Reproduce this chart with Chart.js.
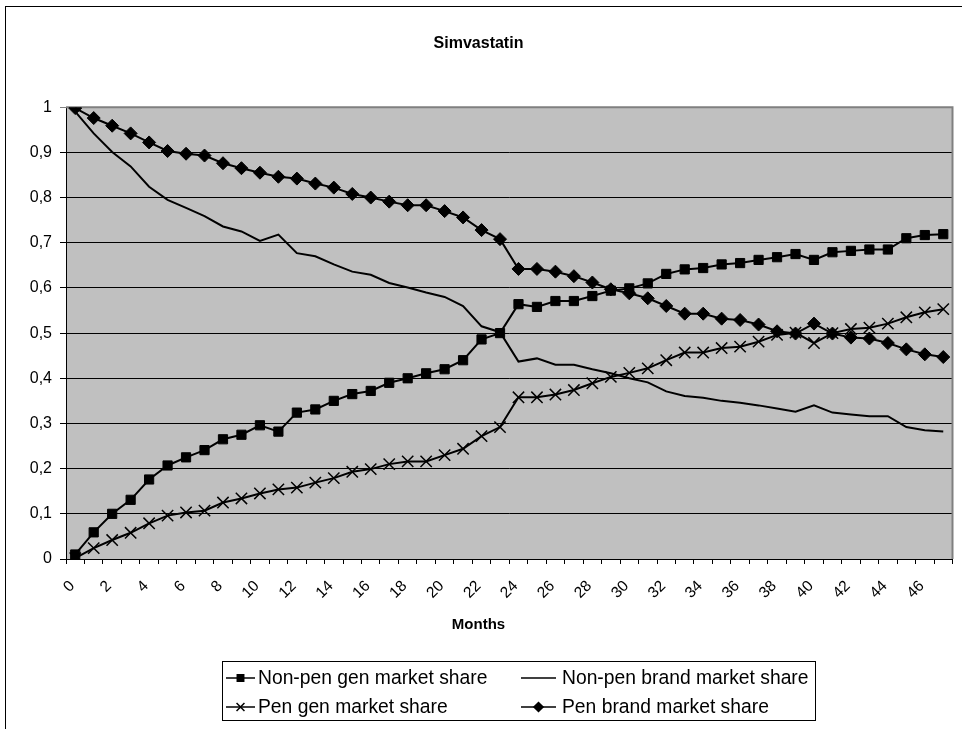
<!DOCTYPE html>
<html>
<head>
<meta charset="utf-8">
<title>Simvastatin</title>
<script src="https://cdn.jsdelivr.net/npm/chart.js@4.4.0/dist/chart.umd.min.js"></script>
<style>
  html, body { margin: 0; padding: 0; background: #ffffff; }
  #wrap { position: relative; width: 962px; height: 729px; }
</style>
</head>
<body>
<div id="wrap"><canvas id="chart" width="962" height="729"></canvas></div>
<script>
// Months since generic entry
const months = Array.from({ length: 48 }, (_, i) => String(i));

// Market shares per month
const nonPenGen = [
  0.010, 0.059, 0.100, 0.131, 0.176, 0.207, 0.225, 0.241, 0.265, 0.275,
  0.296, 0.282, 0.324, 0.331, 0.350, 0.365, 0.372, 0.390, 0.400, 0.411,
  0.420, 0.440, 0.486, 0.500, 0.564, 0.558, 0.571, 0.571, 0.582, 0.594,
  0.599, 0.610, 0.631, 0.641, 0.644, 0.652, 0.655, 0.662, 0.668, 0.675,
  0.662, 0.679, 0.682, 0.685, 0.685, 0.710, 0.717, 0.719
];
const nonPenBrand = [
  0.990, 0.942, 0.901, 0.869, 0.824, 0.795, 0.777, 0.759, 0.736, 0.725,
  0.704, 0.718, 0.677, 0.670, 0.652, 0.636, 0.629, 0.611, 0.601, 0.590,
  0.580, 0.560, 0.515, 0.502, 0.437, 0.444, 0.430, 0.430, 0.420, 0.411,
  0.400, 0.391, 0.371, 0.361, 0.357, 0.350, 0.346, 0.340, 0.333, 0.326,
  0.340, 0.324, 0.320, 0.316, 0.316, 0.292, 0.285, 0.282
];
const penGen = [
  0.002, 0.024, 0.042, 0.058, 0.079, 0.096, 0.103, 0.107, 0.125, 0.134,
  0.145, 0.154, 0.158, 0.169, 0.179, 0.193, 0.199, 0.210, 0.216, 0.216,
  0.230, 0.244, 0.272, 0.292, 0.358, 0.358, 0.364, 0.374, 0.389, 0.403,
  0.412, 0.422, 0.440, 0.457, 0.457, 0.467, 0.470, 0.481, 0.496, 0.501,
  0.478, 0.500, 0.509, 0.512, 0.521, 0.535, 0.546, 0.553
];
const penBrand = [
  0.998, 0.976, 0.959, 0.942, 0.922, 0.903, 0.897, 0.893, 0.876, 0.865,
  0.855, 0.846, 0.842, 0.831, 0.822, 0.808, 0.800, 0.791, 0.783, 0.783,
  0.770, 0.756, 0.728, 0.708, 0.642, 0.642, 0.636, 0.626, 0.612, 0.597,
  0.588, 0.577, 0.560, 0.543, 0.543, 0.532, 0.529, 0.519, 0.504, 0.499,
  0.521, 0.499, 0.490, 0.488, 0.478, 0.464, 0.453, 0.447
];

const seriesLabels = [
  'Non-pen gen market share',
  'Non-pen brand market share',
  'Pen gen market share',
  'Pen brand market share'
];

const FONT = "'Liberation Sans', Arial, Helvetica, sans-serif";

function lineSet(label, data, style, radius, pbw) {
  return {
    label, data,
    borderColor: '#000', backgroundColor: '#000',
    borderWidth: 2, tension: 0,
    pointStyle: style, pointRadius: radius, pointHoverRadius: radius,
    pointBackgroundColor: '#000', pointBorderColor: '#000',
    pointBorderWidth: pbw
  };
}

// Outer frame of the chart object and the grey plot area
const framePlugin = {
  id: 'frame',
  beforeDraw(chart) {
    const ctx = chart.ctx;
    ctx.save();
    ctx.fillStyle = '#fff';
    ctx.fillRect(0, 0, chart.width, chart.height);
    ctx.strokeStyle = '#000';
    ctx.lineWidth = 1;
    ctx.strokeRect(5.5, 6.5, 2000, 2000);
    const a = chart.chartArea;
    ctx.fillStyle = '#c0c0c0';
    ctx.fillRect(a.left, a.top, a.right - a.left, a.bottom - a.top);
    ctx.restore();
  },
  beforeDatasetsDraw(chart) {
    const ctx = chart.ctx, a = chart.chartArea;
    ctx.save();
    ctx.strokeStyle = '#808080';
    ctx.lineWidth = 2;
    ctx.beginPath();
    ctx.moveTo(a.left, a.top);
    ctx.lineTo(a.right, a.top);
    ctx.lineTo(a.right, a.bottom);
    ctx.stroke();
    ctx.restore();
  }
};

// Boxed two-column legend under the axis title
const boxLegendPlugin = {
  id: 'boxLegend',
  afterDraw(chart) {
    const ctx = chart.ctx;
    const box = { x: 222.5, y: 661.5, w: 593, h: 59 };
    const rows = [678, 707];
    const cols = [{ l0: 226, l1: 255, t: 258 }, { l0: 521, l1: 556, t: 562 }];
    ctx.save();
    ctx.strokeStyle = '#000';
    ctx.lineWidth = 1;
    ctx.strokeRect(box.x, box.y, box.w, box.h);
    ctx.font = '19.3px ' + FONT;
    ctx.textBaseline = 'middle';
    ctx.textAlign = 'left';
    chart.data.datasets.forEach((ds, i) => {
      const c = cols[i % 2], y = rows[Math.floor(i / 2)];
      ctx.strokeStyle = '#000';
      ctx.lineWidth = 1.5;
      ctx.beginPath();
      ctx.moveTo(c.l0, y);
      ctx.lineTo(c.l1, y);
      ctx.stroke();
      if (ds.pointRadius > 0 && Chart.helpers && Chart.helpers.drawPoint) {
        ctx.fillStyle = '#000';
        Chart.helpers.drawPoint(ctx, {
          pointStyle: ds.pointStyle,
          radius: ds.pointRadius * 0.7,
          rotation: 0,
          borderWidth: 1
        }, (c.l0 + c.l1) / 2, y);
      }
      ctx.fillStyle = '#000';
      ctx.fillText(ds.label, c.t, y + 1);
    });
    ctx.restore();
  }
};

new Chart(document.getElementById('chart'), {
  type: 'line',
  data: {
    labels: months,
    datasets: [
      lineSet(seriesLabels[0], nonPenGen, 'rect', 6.5, 1),
      lineSet(seriesLabels[1], nonPenBrand, 'circle', 0, 0),
      lineSet(seriesLabels[2], penGen, 'crossRot', 8, 1.5),
      lineSet(seriesLabels[3], penBrand, 'rectRot', 6.5, 1)
    ]
  },
  options: {
    responsive: false,
    devicePixelRatio: 1,
    animation: false,
    events: [],
    layout: { padding: { left: 0, right: 5, top: 0, bottom: 80 } },
    plugins: {
      legend: { display: false },
      tooltip: { enabled: false },
      title: {
        display: true,
        text: 'Simvastatin',
        color: '#000',
        font: { family: FONT, size: 16, weight: 'bold' },
        lineHeight: 1.2,
        padding: { top: 34, bottom: 54 }
      },
      subtitle: {
        display: true,
        position: 'bottom',
        text: 'Months',
        color: '#000',
        font: { family: FONT, size: 15, weight: 'bold' },
        padding: { top: 1, bottom: 15 }
      }
    },
    scales: {
      x: {
        type: 'category',
        offset: true,
        afterFit(scale) {
          scale.height = 56;
          scale.paddingLeft = 0;
          scale.paddingRight = 0;
        },
        grid: {
          offset: true,
          drawOnChartArea: false,
          drawTicks: true,
          tickLength: 5,
          color: '#000'
        },
        border: { color: '#000', width: 1 },
        ticks: {
          autoSkip: false,
          minRotation: 45,
          maxRotation: 45,
          padding: 13,
          labelOffset: -3,
          color: '#000',
          font: { family: FONT, size: 15.5 },
          callback(value, index) { return index % 2 === 0 ? months[index] : ''; }
        }
      },
      y: {
        min: 0,
        max: 1,
        afterFit(scale) { scale.width = 66; },
        grid: {
          color: (c) => (c.tick && c.tick.value === 1 ? '#808080' : '#000'),
          lineWidth: 1,
          drawTicks: true,
          tickLength: 6
        },
        border: { color: '#000', width: 1 },
        ticks: {
          stepSize: 0.1,
          padding: 8,
          color: '#000',
          font: { family: FONT, size: 16 },
          callback(v) { return String(Math.round(v * 10) / 10).replace('.', ','); }
        }
      }
    }
  },
  plugins: [framePlugin, boxLegendPlugin]
});
</script>
</body>
</html>
